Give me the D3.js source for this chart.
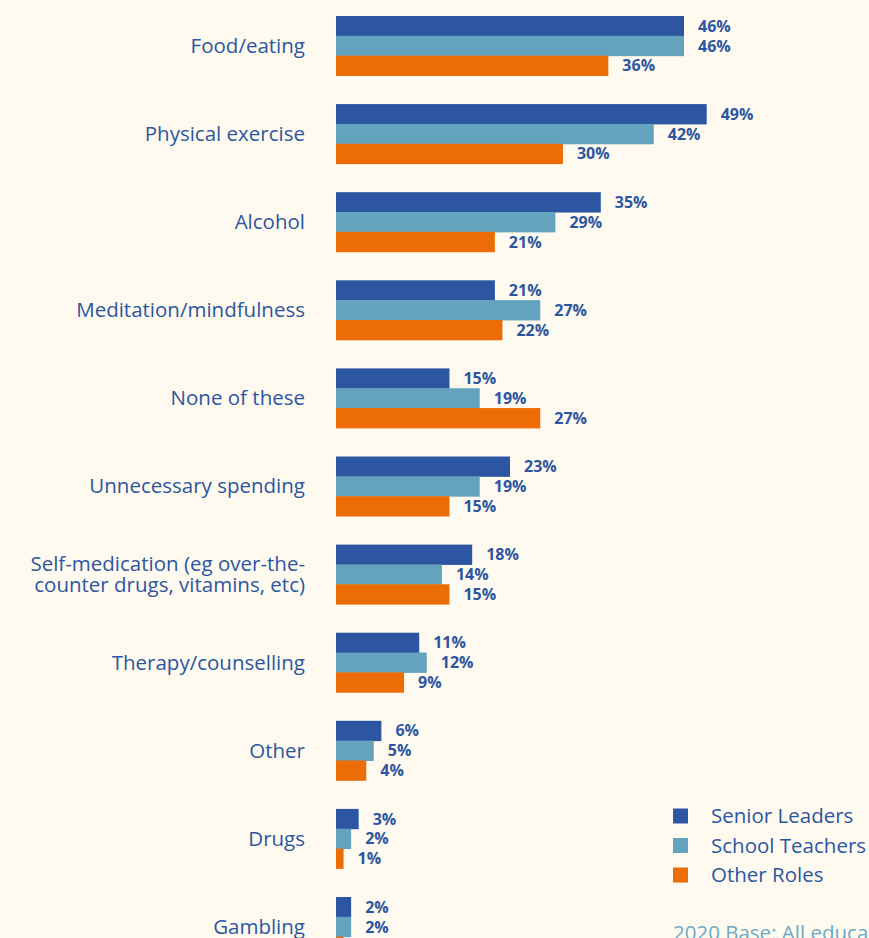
<!DOCTYPE html>
<html><head><meta charset="utf-8">
<script src="https://cdn.jsdelivr.net/npm/d3@7"></script>
<style>
html,body{margin:0;padding:0;background:#fffaf0;overflow:hidden;}
svg{display:block;}
</style></head>
<body>
<svg id="chart" width="869" height="938"></svg>
<script>
const categories = ["Food/eating","Physical exercise","Alcohol","Meditation/mindfulness","None of these","Unnecessary spending","Self-medication (eg over-the-|counter drugs, vitamins, etc)","Therapy/counselling","Other","Drugs","Gambling"];
const seriesNames = ["Senior Leaders","School Teachers","Other Roles"];
const seniorLeaders = [46,49,35,21,15,23,18,11,6,3,2];
const schoolTeachers = [46,42,29,27,19,19,14,12,5,2,2];
const otherRoles = [36,30,21,22,27,15,15,9,4,1,1];
const colors = ["#2c56a1","#64a3bd","#ec6d05"];
const footnote = "2020 Base: All education professionals";

const FONT = "'Open Sans', sans-serif";
const svg = d3.select("#chart");
const series = [seniorLeaders, schoolTeachers, otherRoles];
const x = d3.scaleLinear().domain([0,46]).range([336,684]);
const y0 = d3.scaleBand().domain(categories).range([16, 16+88.1*10+59.5]).paddingInner(28.6/88.1).paddingOuter(0);
const ys = d3.scaleBand().domain(seriesNames).range([0, y0.bandwidth()]);

const g = svg.append("g");
categories.forEach((c,i)=>{
  const gg = g.append("g").attr("transform",`translate(0,${y0(c)})`);
  series.forEach((s,j)=>{
    gg.append("rect").attr("x",x(0)).attr("y",ys(seriesNames[j])).attr("width",x(s[i])-x(0)).attr("height",ys.bandwidth()+0.5).attr("fill",colors[j]);
    gg.append("text").attr("x",x(s[i])+14).attr("y",ys(seriesNames[j])+ys.bandwidth()/2).attr("dy","0.36em")
      .attr("font-family",FONT).attr("font-weight","bold").attr("font-size",16).attr("fill","#2c56a1").text(s[i]+"%");
  });
  const lines = c.split("|");
  const cy = y0.bandwidth()/2;
  const t = gg.append("text").attr("text-anchor","end").attr("font-family",FONT).attr("font-size",20.5).attr("fill","#2c56a1");
  lines.forEach((l,k)=>{
    t.append("tspan").attr("x",305).attr("y",cy+(k-(lines.length-1)/2)*20.5).attr("dy","0.35em").text(l);
  });
});

const leg = svg.append("g");
seriesNames.forEach((n,j)=>{
  const ly = 816 + j*29.5;
  leg.append("rect").attr("x",673).attr("y",ly-7.5).attr("width",15).attr("height",15).attr("fill",colors[j]);
  leg.append("text").attr("x",711).attr("y",ly).attr("dy","0.35em").attr("font-family",FONT).attr("font-size",20.5).attr("fill","#2c56a1").text(n);
});
svg.append("text").attr("x",673).attr("y",940).attr("font-family",FONT).attr("font-size",20.5).attr("fill","#6aaac6").text(footnote);
</script>
</body></html>
